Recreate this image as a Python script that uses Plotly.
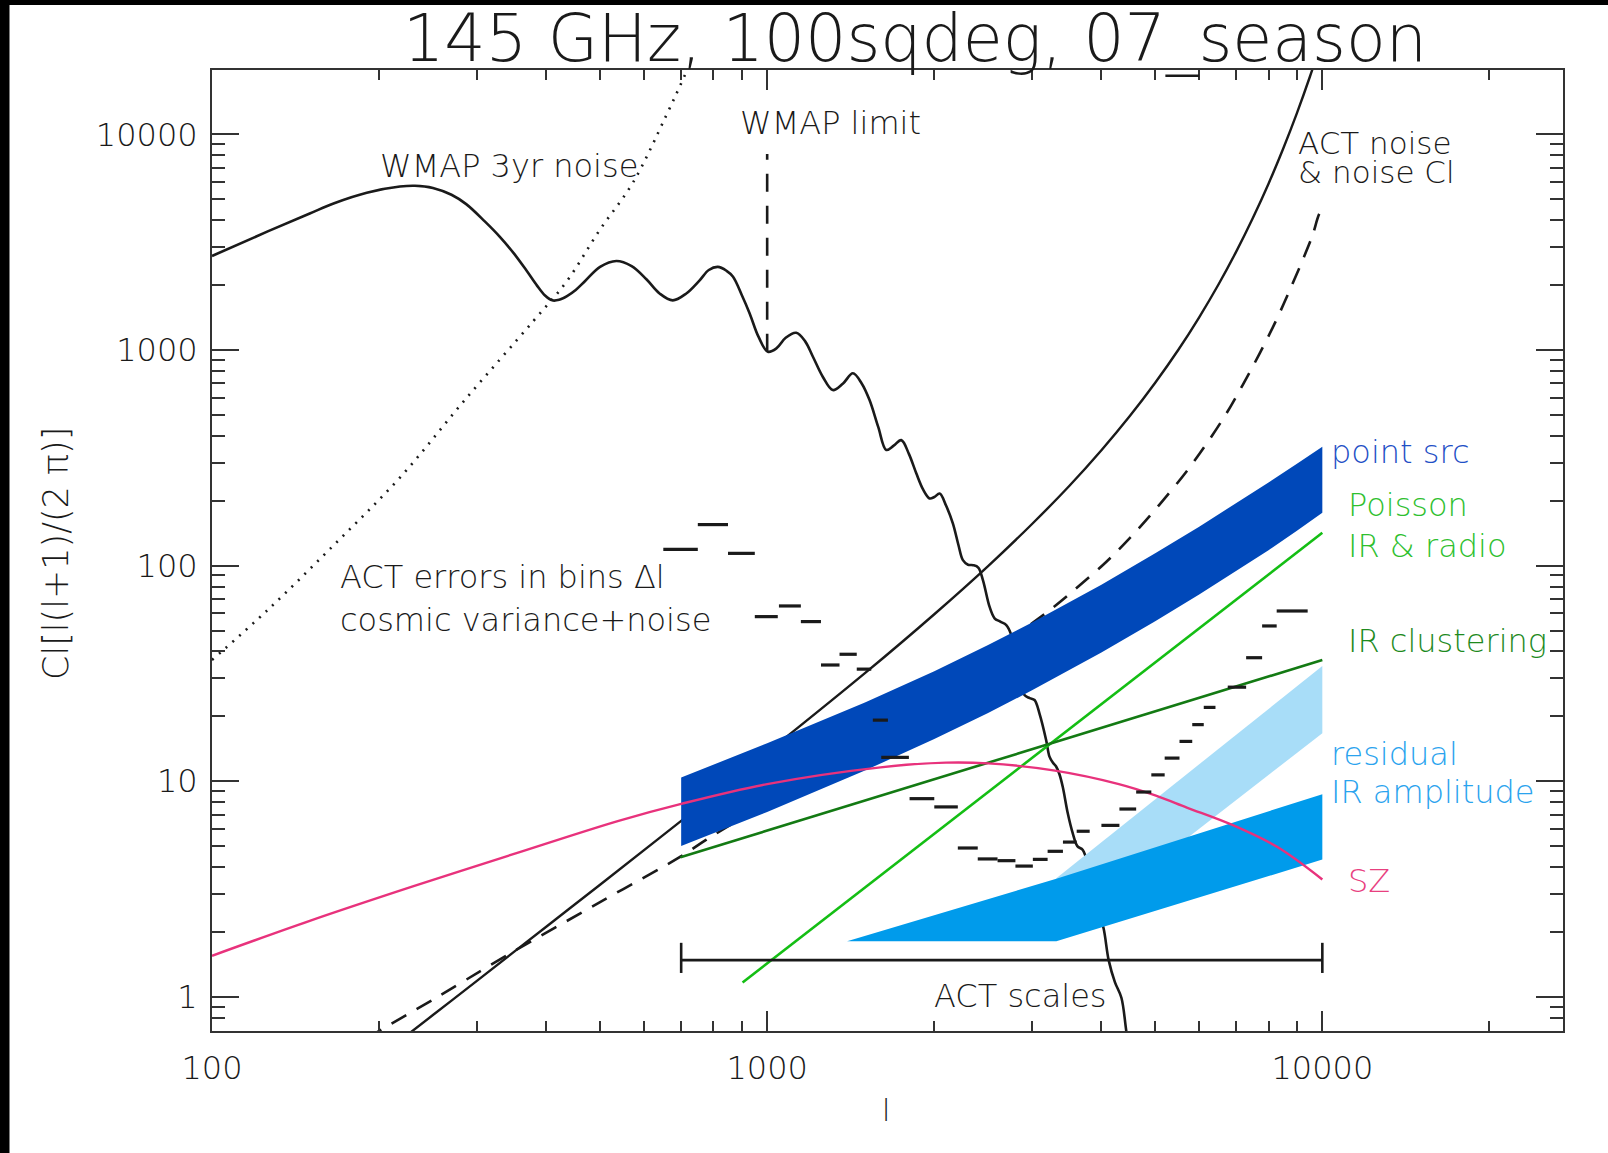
import plotly.graph_objects as go

# ---------------- data (multipole l, band power Cl[l(l+1)/2pi]) ----------------
# CMB temperature power spectrum
cmb_l = [100, 126, 150, 166, 190, 218, 232, 250, 270, 287, 310, 330, 350, 368, 385, 398, 410,
         422, 436, 452, 470, 500, 535, 570, 606, 640, 676, 715, 755, 785, 815, 845, 868, 900,
         930, 965, 1003, 1040, 1080, 1128, 1170, 1209, 1260, 1313, 1370, 1427, 1480, 1529,
         1585, 1639, 1690, 1744, 1800, 1856, 1910, 1961, 2000, 2045, 2100, 2160, 2210, 2252,
         2300, 2350, 2400, 2447, 2515, 2568, 2630, 2696, 2752, 2830, 2907, 2970, 3031, 3094,
         3181, 3225, 3270, 3315, 3360, 3408, 3479, 3552, 3620, 3703, 3790, 3870, 3950, 4036,
         4122, 4230, 4346, 4436, 4500]
cmb_c = [2730, 3550, 4300, 4800, 5370, 5730, 5780, 5650, 5250, 4750, 3950, 3350, 2800, 2350,
         1990, 1790, 1700, 1710, 1780, 1900, 2090, 2430, 2590, 2450, 2130, 1830, 1700, 1830,
         2100, 2350, 2430, 2330, 2188, 1800, 1479, 1150, 982, 1020, 1140, 1202, 1100, 931, 750,
         652, 700, 780, 700, 586, 440, 344, 360, 382, 330, 268, 225, 205, 208, 216, 190, 157,
         125, 106, 101, 100.5, 98, 85.7, 64.5, 57, 55, 53, 47.7, 33, 25.1, 24.3, 23.8, 20.6,
         15.5, 13.0, 12.2, 11.7, 10.8, 9.4, 7.1, 5.73, 5.0, 4.8, 4.0, 3.1, 2.5, 2.08, 1.48,
         1.17, 0.99, 0.69, 0.55]

# ACT noise (solid) and noise Cl (dashed)
act_noise_l = [200, 250, 300, 400, 500, 700, 1000, 1500, 2000, 2500, 3000, 3500, 4000, 4500,
               5000, 5500, 6000, 6500, 7000, 7500, 8000, 8500, 9000, 9500, 10000]
act_noise_c = [0.527, 0.823, 1.186, 2.114, 3.31, 6.55, 13.6, 31.7, 59.5, 99.5, 156, 234, 343,
               494, 705, 1000, 1419, 2014, 2868, 4108, 5912, 8589, 12563, 18570, 27700]

noise_cl_l = [190, 202, 250, 336, 500, 698, 776, 1000, 1500, 2000, 2500, 3000, 3225, 3552,
              4079, 4556, 5090, 5684, 6175, 6709, 7190, 7704, 8254, 8723, 9219, 9600, 9881,
              10000]
noise_cl_c = [0.64, 0.705, 0.97, 1.53, 2.75, 4.47, 5.34, 8.0, 15.8, 26.2, 39, 54, 62, 76,
              104, 139, 192, 272, 365, 505, 690, 960, 1370, 1880, 2620, 3400, 4300, 4450]

# WMAP 3yr noise (dotted)
wmap_l = [100, 126, 166, 218, 287, 379, 435, 499, 573, 658, 715, 745]
wmap_c = [36.5, 62.3, 125, 256, 597, 1361, 2075, 3596, 5975, 12250, 19500, 25000]

# WMAP limit marker
wmap_limit_l = [1000, 1000]
wmap_limit_c = [982, 8110]

# SZ
sz_l = [100, 150, 230, 350, 540, 700, 1000, 1600, 2100, 2500, 3300, 4300, 5000, 5700, 6900,
        8300, 10000]
sz_c = [1.55, 2.25, 3.25, 4.6, 6.55, 7.85, 9.7, 11.6, 12.2, 12.1, 11.2, 9.7, 8.6, 7.55, 6.25,
        4.95, 3.5]

# point sources band (upper / lower edge)
ps_l = [700, 1000, 1500, 2000, 2500, 3000, 4000, 5000, 6000, 7000, 8000, 9000, 10000]
ps_hi = [10.4, 15.0, 23.2, 32.4, 42.8, 54.5, 81.6, 114, 151.6, 194.6, 243, 296.8, 356]
ps_lo = [5.0, 7.2, 11.2, 15.7, 20.7, 26.4, 39.5, 55.2, 73.4, 94.5, 118, 145, 176]

# Poisson IR & radio, IR clustering
poisson_l = [903, 10000]
poisson_c = [1.166, 142]
clust_l = [698, 10000]
clust_c = [4.44, 36.5]

# residual IR amplitude bands
resid_hi_l = [3318, 10000]
resid_hi_c = [3.55, 34.2]
resid_lo_l = [3318, 10000]
resid_lo_c = [1.84, 16.7]

amp_top_l = [1393, 3318, 10000]
amp_top_c = [1.81, 3.53, 8.7]
amp_bot_l = [1393, 3318, 10000]
amp_bot_c = [1.81, 1.81, 4.33]

# ACT errors in bins (l_lo, l_hi, value)
bin_lo = [650, 750, 850, 950, 1050, 1150, 1250, 1350, 1450, 1550, 1605, 1805, 2000, 2205,
          2395, 2600, 2800, 3010, 3200, 3410, 3610, 4000, 4310, 4620, 4920, 5200, 5530, 5830,
          6115, 6755, 7290, 7790, 8275]
bin_hi = [750, 850, 950, 1045, 1150, 1250, 1350, 1450, 1540, 1650, 1800, 2000, 2205, 2395,
          2600, 2800, 3010, 3200, 3410, 3610, 3810, 4310, 4620, 4920, 5200, 5530, 5830, 6115,
          6420, 7290, 7790, 8275, 9410]
bin_val = [119, 155, 114, 58, 65, 55, 34.6, 38.8, 33.1, 19.2, 12.9, 8.3, 7.6, 4.9, 4.36, 4.28,
           4.04, 4.34, 4.73, 5.22, 5.86, 6.24, 7.43, 8.91, 10.7, 12.8, 15.3, 18.3, 22.0, 27.3,
           37.4, 52.5, 61.6]

# ACT scales bracket
act_range = [700, 10000]
act_bar_c = 1.48
act_cap = [1.29, 1.78]

x_major = [100, 1000, 10000]
x_labels = ["100", "1000", "10000"]
y_major = [1, 10, 100, 1000, 10000]
y_labels = ["1", "10", "100", "1000", "10000"]

# ---------------- figure ----------------
W, H = 1608, 1153
ML, MR, MT, MB = 212, 45, 70, 122
PW, PH = W - ML - MR, H - MT - MB
FONT = "DejaVu Sans"
INK = "#1a1a1a"


def paper(px, py):
    return (px - ML) / PW, (H - MB - py) / PH


fig = go.Figure()


def line(x, y, color, width, dash=None, shape="linear"):
    fig.add_trace(go.Scatter(x=x, y=y, mode="lines", hoverinfo="skip",
                             line=dict(color=color, width=width, dash=dash, shape=shape)))


def band(xs, ys, color):
    fig.add_trace(go.Scatter(x=xs, y=ys, mode="lines", fill="toself", fillcolor=color,
                             line=dict(width=0, color=color), hoverinfo="skip"))


line(cmb_l, cmb_c, INK, 2.6, shape="spline")
line(act_noise_l, act_noise_c, INK, 2.4, shape="spline")
line(noise_cl_l, noise_cl_c, INK, 2.6, dash="17px,12px", shape="spline")
line(wmap_l, wmap_c, INK, 2.6, dash="2px,7px", shape="spline")
line(wmap_limit_l, wmap_limit_c, INK, 2.6, dash="18px,14px")

band(resid_hi_l + resid_lo_l[::-1], resid_hi_c + resid_lo_c[::-1], "#A8DDF8")
band(amp_top_l + amp_bot_l[::-1], amp_top_c + amp_bot_c[::-1], "#009BEB")
band(ps_l + ps_l[::-1], ps_hi + ps_lo[::-1], "#0048B9")

line(poisson_l, poisson_c, "#14BE14", 2.6)
line(clust_l, clust_c, "#137A13", 2.6)
line(sz_l, sz_c, "#E8327C", 2.4, shape="spline")

bx, by = [], []
for lo, hi, v in zip(bin_lo, bin_hi, bin_val):
    bx += [lo, hi, None]
    by += [v, v, None]
line(bx, by, INK, 3.2)

line(act_range + [None, act_range[0], act_range[0], None, act_range[1], act_range[1]],
     [act_bar_c, act_bar_c, None, act_cap[0], act_cap[1], None, act_cap[0], act_cap[1]],
     INK, 2.6)

axis_common = dict(type="log", showgrid=False, zeroline=False, showline=True,
                   linecolor="#333333", linewidth=2, mirror="ticks", ticks="inside",
                   tickcolor="#333333", tickwidth=2,
                   tickfont=dict(family=FONT, size=32, color=INK, weight=200))

fig.update_xaxes(**axis_common, range=[2, 4.4335], tickmode="array", tickvals=x_major,
                 ticktext=x_labels, ticklen=20, ticklabelstandoff=8,
                 minor=dict(ticks="inside", ticklen=10, tickcolor="#333333", tickwidth=2,
                            tickmode="array",
                            tickvals=[k * 10 ** e for e in (2, 3, 4) for k in range(2, 10)
                                      if k * 10 ** e < 27000]))
fig.update_yaxes(**axis_common, range=[-0.1586, 4.2989], tickmode="array", tickvals=y_major,
                 ticktext=y_labels, ticklen=27, ticklabelstandoff=6,
                 minor=dict(ticks="inside", ticklen=13, tickcolor="#333333", tickwidth=2,
                            tickmode="array",
                            tickvals=[k * 10 ** e for e in (-1, 0, 1, 2, 3, 4) for k in range(2, 10)
                                      if 0.69 < k * 10 ** e < 20000]))

fig.update_layout(width=W, height=H, autosize=False, showlegend=False,
                  margin=dict(l=ML, r=MR, t=MT, b=MB, pad=0),
                  plot_bgcolor="white", paper_bgcolor="white")


def label(text, px, py, color=INK, size=32, anchor="left", angle=0):
    x, y = paper(px, py)
    fig.add_annotation(text=text, x=x, y=y, xref="paper", yref="paper", showarrow=False,
                       xanchor=anchor, yanchor="middle", textangle=angle,
                       font=dict(family=FONT, size=size, color=color, weight=200))


label("145 GHz, 100sqdeg, 07_season", 915, 39, size=65, anchor="center")
label("WMAP 3yr noise", 378, 166)
label("WMAP limit", 738, 123)
label("ACT noise", 1296, 143, size=31)
label("&amp; noise Cl", 1296, 172, size=31)
label("ACT errors in bins Δl", 338, 577)
label("cosmic variance+noise", 338, 620)
label("point src", 1329, 452, color="#1F50C6")
label("Poisson", 1346, 505, color="#2EC02E")
label("IR &amp; radio", 1346, 546, color="#2EC02E")
label("IR clustering", 1346, 641, color="#1E8A1E")
label("residual", 1329, 754, color="#2AA3EE")
label("IR amplitude", 1329, 792, color="#2AA3EE")
label("SZ", 1346, 881, color="#E8407F")
label("ACT scales", 932, 996)
label("Cl[l(l+1)/(2 π)]", 56, 554, size=35, anchor="center", angle=-90)
label("l", 886, 1110, size=30, anchor="center")

# dark frame strips along the left and top edges of the page
x0, _ = paper(0, 0)
x9, _ = paper(9.5, 0)
xr, _ = paper(W, 0)
_, ytop = paper(0, 0)
_, y5 = paper(0, 5)
_, ybot = paper(0, H)
fig.add_shape(type="rect", xref="paper", yref="paper", x0=x0, x1=x9, y0=ybot, y1=ytop,
              fillcolor="black", line=dict(width=0), layer="above")
fig.add_shape(type="rect", xref="paper", yref="paper", x0=x0, x1=xr, y0=y5, y1=ytop,
              fillcolor="black", line=dict(width=0), layer="above")

fig.write_html("out.html")
